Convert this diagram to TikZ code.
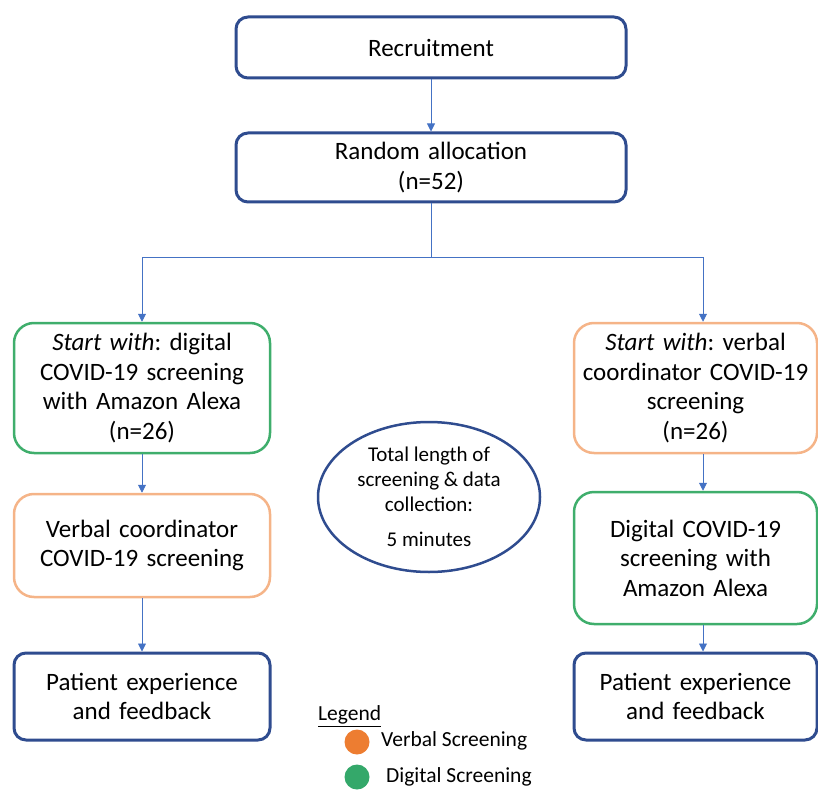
\documentclass[tikz,border=0pt]{standalone}
\usepackage{fontspec}
\setmainfont{Carlito}
\usetikzlibrary{shapes.geometric,arrows.meta}

\definecolor{navy}{HTML}{2F4C8F}
\definecolor{grn}{HTML}{3FAE6C}
\definecolor{org}{HTML}{F5B488}
\definecolor{linkblue}{HTML}{4472C4}
\definecolor{dotorange}{HTML}{ED7D31}
\definecolor{dotgreen}{HTML}{34A86A}

\tikzset{
  box/.style={draw, align=center, inner sep=0pt, font=\fontsize{25}{29.5}\selectfont},
  bluebox/.style={box, draw=navy, line width=3pt, rounded corners=12pt},
  greenbox/.style={box, draw=grn, line width=2.5pt, rounded corners=20pt},
  orangebox/.style={box, draw=org, line width=2.5pt, rounded corners=20pt},
  link/.style={draw=linkblue, line width=0.9pt, -{Triangle[length=8pt,width=8pt]}},
  legtext/.style={anchor=west, inner sep=0pt, font=\fontsize{21.5}{24}\selectfont}
}

\frenchspacing

\begin{document}
\begin{tikzpicture}[x=1pt, y=-1pt]
  \useasboundingbox (0,0) rectangle (818,791);
  \clip (0,0) rectangle (818,791);

  % top part
  \node[bluebox, text width=390pt, minimum height=61pt] (rec) at (431,47.5) {Recruitment};
  \node[bluebox, text width=390pt, minimum height=69pt] (rand) at (431,167.5) {Random allocation\\(n=52)};
  \coordinate (split) at (431,257);

  % left arm
  \node[greenbox, text width=256pt, minimum height=130pt] (lstart) at (142,388)
    {\textit{Start with}: digital\\COVID-19 screening\\with Amazon Alexa\\(n=26)};
  \node[orangebox, text width=256pt, minimum height=103pt] (lverb) at (142,545.5)
    {Verbal coordinator\\COVID-19 screening};
  \node[bluebox, text width=256pt, minimum height=87pt] (lpat) at (142,696.5)
    {Patient experience\\and feedback};

  % right arm
  \node[orangebox, text width=243pt, minimum height=130pt] (rstart) at (695.5,388)
    {\textit{Start with}: verbal\\coordinator COVID-19\\screening\\(n=26)};
  \node[greenbox, text width=243pt, minimum height=132pt] (rdig) at (695.5,558)
    {Digital COVID-19\\screening with\\Amazon Alexa};
  \node[bluebox, text width=243pt, minimum height=87pt] (rpat) at (695.5,696.5)
    {Patient experience\\and feedback};

  % middle
  \node[ellipse, draw=navy, line width=2.5pt, minimum width=222pt, minimum height=150pt,
        inner sep=0pt, align=center, font=\fontsize{21}{25}\selectfont] (total) at (429,497)
    {Total length of\\screening \& data\\collection:\\[10pt]5 minutes};

  % legend
  \node[legtext] (leg) at (318,716) {\underline{Legend}};
  \node[circle, fill=dotorange, minimum size=25pt, inner sep=0pt] (vdot) at (357,742) {};
  \node[legtext] (vtext) at (381,741) {Verbal Screening};
  \node[circle, fill=dotgreen, minimum size=25pt, inner sep=0pt] (ddot) at (357,777) {};
  \node[legtext] (dtext) at (386,777) {Digital Screening};

  \draw[link] (rec) -- (rand);
  \draw[draw=linkblue, line width=0.9pt] (rand) -- (split);
  \draw[link] (split) -| (lstart);
  \draw[link] (split) -| ([xshift=7.5pt]rstart.north);
  \draw[link] (lstart) -- (lverb);
  \draw[link] (lverb) -- (lpat);
  \draw[link] ([xshift=7.5pt]rstart.south) -- ([xshift=7.5pt]rdig.north);
  \draw[link] ([xshift=7.5pt]rdig.south) -- ([xshift=7.5pt]rpat.north);
\end{tikzpicture}
\end{document}
